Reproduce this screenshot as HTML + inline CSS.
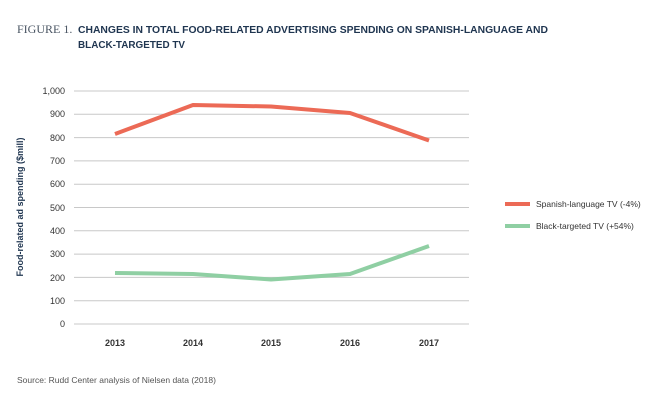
<!DOCTYPE html>
<html><head><style>
body{margin:0;background:#fff;}
svg text{font-family:"Liberation Sans",sans-serif;}
</style></head><body>
<svg width="648" height="403" xmlns="http://www.w3.org/2000/svg">
<text x="17" y="33" font-family="Liberation Serif" font-size="12" fill="#4a5563" style="font-family:'Liberation Serif',serif">FIGURE 1.</text>
<text x="78" y="33" font-size="10.5" font-weight="bold" fill="#1f3550" textLength="470" lengthAdjust="spacingAndGlyphs">CHANGES IN TOTAL FOOD-RELATED ADVERTISING SPENDING ON SPANISH-LANGUAGE AND</text>
<text x="78" y="48" font-size="10.5" font-weight="bold" fill="#1f3550" textLength="107" lengthAdjust="spacingAndGlyphs">BLACK-TARGETED TV</text>
<g stroke="#c8c8c8" stroke-width="1">
<line x1="74" x2="469" y1="91" y2="91"/><line x1="74" x2="469" y1="114.3" y2="114.3"/>
<line x1="74" x2="469" y1="137.6" y2="137.6"/><line x1="74" x2="469" y1="160.9" y2="160.9"/>
<line x1="74" x2="469" y1="184.2" y2="184.2"/><line x1="74" x2="469" y1="207.5" y2="207.5"/>
<line x1="74" x2="469" y1="230.8" y2="230.8"/><line x1="74" x2="469" y1="254.1" y2="254.1"/>
<line x1="74" x2="469" y1="277.4" y2="277.4"/><line x1="74" x2="469" y1="300.7" y2="300.7"/>
<line x1="74" x2="469" y1="324" y2="324"/>
</g>
<g font-size="9" fill="#333" text-anchor="end">
<text x="65" y="94">1,000</text><text x="65" y="117">900</text><text x="65" y="141">800</text>
<text x="65" y="164">700</text><text x="65" y="187">600</text><text x="65" y="211">500</text>
<text x="65" y="234">400</text><text x="65" y="257">300</text><text x="65" y="281">200</text>
<text x="65" y="304">100</text><text x="65" y="327">0</text>
</g>
<g font-size="9" font-weight="bold" fill="#333" text-anchor="middle">
<text x="115" y="346">2013</text><text x="193" y="346">2014</text><text x="271" y="346">2015</text>
<text x="350" y="346">2016</text><text x="429" y="346">2017</text>
</g>
<text transform="translate(23,207) rotate(-90)" font-size="9" font-weight="bold" fill="#1f3550" text-anchor="middle">Food-related ad spending ($mill)</text>
<polyline fill="none" stroke="#ec6a56" stroke-width="4" stroke-linejoin="round" points="115,134 193,105 271,106.5 350,113 429,140.5"/>
<polyline fill="none" stroke="#8fcfa3" stroke-width="4" stroke-linejoin="round" points="115,273 193,274 271,279.5 350,274 429,246"/>
<line x1="505" x2="530" y1="204" y2="204" stroke="#ec6a56" stroke-width="4"/>
<line x1="505" x2="530" y1="226" y2="226" stroke="#8fcfa3" stroke-width="4"/>
<text x="536" y="207" font-size="8.5" fill="#333">Spanish-language TV (-4%)</text>
<text x="536" y="229" font-size="8.5" fill="#333">Black-targeted TV (+54%)</text>
<text x="17" y="383" font-size="8.5" fill="#555">Source: Rudd Center analysis of Nielsen data (2018)</text>
</svg>
</body></html>
